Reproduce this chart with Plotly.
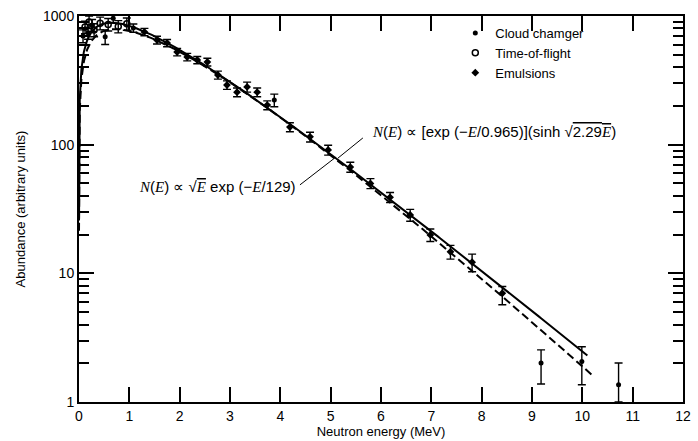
import math
import numpy as np
import plotly.graph_objects as go

# ---- measured spectra -------------------------------------------------------
# Time-of-flight measurements (MeV, arbitrary units)
tof_energy = [0.12, 0.20, 0.30, 0.42, 0.58, 0.78, 0.95]
tof_abund = [820, 900, 780, 880, 860, 830, 870]
tof_err_up = [90, 100, 90, 100, 95, 90, 95]
tof_err_dn = [90, 100, 90, 100, 95, 90, 95]

# Cloud-chamber measurements
cloud_energy = [0.08, 0.18, 0.26, 0.52, 0.68, 1.08, 3.88, 9.18, 9.99, 10.72]
cloud_abund = [700, 740, 850, 690, 960, 807, 222, 2.01, 2.06, 1.36]
cloud_err_up = [80, 80, 90, 90, 80, 60, 25, 0.53, 0.63, 0.65]
cloud_err_dn = [80, 80, 90, 90, 80, 60, 25, 0.63, 0.70, 0.36]

# Emulsion measurements
emul_energy = [1.30, 1.55, 1.75, 1.95, 2.15, 2.35, 2.55, 2.76, 2.94, 3.14,
               3.34, 3.54, 3.74, 4.19, 4.59, 4.95, 5.39, 5.79, 6.18, 6.58,
               6.98, 7.38, 7.81, 8.41]
emul_abund = [752, 651, 617, 525, 480, 455, 439, 348, 291, 256,
              281, 256, 203, 137, 115, 91, 67, 50, 39, 28.4,
              19.9, 14.7, 12.2, 7.0]
emul_err_up = [50, 45, 40, 35, 32, 30, 30, 25, 22, 20,
               25, 20, 16, 11, 10, 8, 6, 4.5, 3.5, 3.0,
               2.2, 1.8, 1.9, 0.9]
emul_err_dn = [50, 45, 40, 35, 32, 30, 30, 25, 22, 20,
               25, 20, 16, 11, 10, 8, 6, 4.5, 3.5, 3.0,
               2.2, 1.8, 1.9, 1.3]

# ---- axis ticks -------------------------------------------------------------
x_ticks = list(range(13))
y_ticks = [1, 10, 100, 1000]
y_tick_text = ["1", "10", "100", "1000"]
X_RANGE = [0, 12]
Y_DECADES = [0, 3]

# ---- fitted spectral shapes ------------------------------------------------
MAXWELL_T = 1.29      # MeV
MAXWELL_NORM = 1820
MAXWELL_EMAX = 10.1
WATT_A = 0.965        # MeV
WATT_B = 2.29         # 1/MeV
WATT_NORM = 1000
WATT_EMAX = 10.2

def maxwell(e):
    return MAXWELL_NORM * np.sqrt(e) * np.exp(-e / MAXWELL_T)

def watt(e):
    return WATT_NORM * np.exp(-e / WATT_A) * np.sinh(np.sqrt(WATT_B * e))

e_max = np.concatenate([np.geomspace(2e-4, 1.0, 120), np.linspace(1.0, MAXWELL_EMAX, 200)[1:]])
e_watt = np.concatenate([np.geomspace(2e-4, 1.0, 120), np.linspace(1.0, WATT_EMAX, 200)[1:]])

# leader lines from the formula labels to the curves (energy, abundance)
maxwell_leader_e = [4.39, 5.106]
maxwell_leader_n = [48.7, 80.2]
watt_leader_e = [5.64, 5.146]
watt_leader_n = [112.8, 78.7]

BLACK = "black"
SANS = "Liberation Sans, Arial, Helvetica, sans-serif"
SERIF = "Liberation Serif"

fig = go.Figure()

fig.add_trace(go.Scatter(x=e_max.tolist(), y=maxwell(e_max).tolist(), mode="lines",
                         line=dict(color=BLACK, width=2), showlegend=False))
fig.add_trace(go.Scatter(x=e_watt.tolist(), y=watt(e_watt).tolist(), mode="lines",
                         line=dict(color=BLACK, width=2, dash="8px,4px"),
                         showlegend=False))

for xs, ys in [(maxwell_leader_e, maxwell_leader_n), (watt_leader_e, watt_leader_n)]:
    fig.add_trace(go.Scatter(x=xs, y=ys, mode="lines",
                             line=dict(color=BLACK, width=1), showlegend=False))

def err(up, dn):
    return dict(type="data", symmetric=False, array=up, arrayminus=dn,
                color=BLACK, thickness=1.4, width=4)

fig.add_trace(go.Scatter(
    x=cloud_energy, y=cloud_abund, mode="markers", name="Cloud chamger",
    marker=dict(symbol="circle", size=5, color=BLACK),
    error_y=err(cloud_err_up, cloud_err_dn)))
fig.add_trace(go.Scatter(
    x=tof_energy, y=tof_abund, mode="markers", name="Time-of-flight",
    marker=dict(symbol="circle-open", size=6, color=BLACK, line=dict(width=1.5)),
    error_y=err(tof_err_up, tof_err_dn)))
fig.add_trace(go.Scatter(
    x=emul_energy, y=emul_abund, mode="markers", name="Emulsions",
    marker=dict(symbol="diamond", size=6, color=BLACK),
    error_y=err(emul_err_up, emul_err_dn)))

def it(s):
    return f"<span style='font-family:{SERIF}'><i>{s}</i></span>"

def rad(s):
    return f"√<span style='text-decoration:overline'>{s}</span>"

maxwell_label = (f"{it('N')}({it('E')}) ∝ {rad(it('E'))} exp (−{it('E')}/129)")
watt_label = (f"{it('N')}({it('E')}) ∝ [exp (−{it('E')}/0.965)](sinh {rad('2.29' + it('E'))})")

fig.add_annotation(x=4.36, y=math.log10(47.7), xref="x", yref="y", text=maxwell_label,
                   showarrow=False, xanchor="right", yanchor="middle",
                   font=dict(size=15, color=BLACK, family=SANS))
fig.add_annotation(x=5.78, y=math.log10(127.6), xref="x", yref="y", text=watt_label,
                   showarrow=False, xanchor="left", yanchor="middle",
                   font=dict(size=15, color=BLACK, family=SANS))

axis_common = dict(showline=True, linecolor=BLACK, linewidth=2, mirror="allticks",
                   ticks="inside", tickcolor=BLACK, tickwidth=2, showgrid=False,
                   zeroline=False, layer="above traces",
                   tickfont=dict(size=14, color=BLACK, family=SANS))

fig.update_layout(
    template="none",
    width=698, height=441,
    margin=dict(l=79, r=15, t=16, b=39),
    paper_bgcolor="white", plot_bgcolor="white",
    xaxis=dict(range=X_RANGE, tickmode="array", tickvals=x_ticks, ticklen=15,
               title=dict(text="Neutron energy (MeV)",
                          font=dict(size=13, color=BLACK, family=SANS), standoff=4),
               **axis_common),
    yaxis=dict(type="log", range=Y_DECADES, tickmode="array",
               tickvals=y_ticks, ticktext=y_tick_text, ticklen=15,
               minor=dict(ticks="inside", ticklen=10, tickcolor=BLACK, tickwidth=2,
                          dtick="D1", showgrid=False),
               title=dict(text="Abundance (arbitrary units)",
                          font=dict(size=13, color=BLACK, family=SANS), standoff=14),
               **axis_common),
    legend=dict(x=0.623, y=0.995, xanchor="left", yanchor="top",
                bgcolor="rgba(0,0,0,0)",
                font=dict(size=13, color=BLACK, family=SANS),
                itemwidth=30, tracegroupgap=2),
    showlegend=True,
)

fig.write_html("out.html")
